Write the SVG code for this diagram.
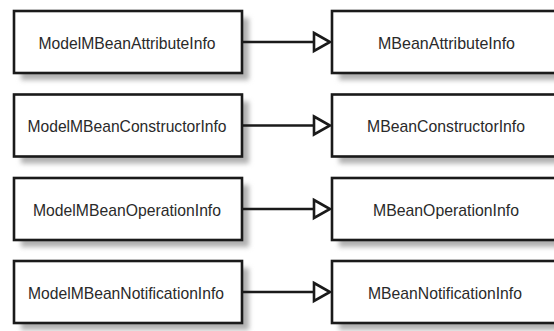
<svg xmlns="http://www.w3.org/2000/svg" width="554" height="331" viewBox="0 0 554 331">
<style>
.box{fill:#fff;stroke:#1a1a1a;stroke-width:2.6}
.sh{fill:#b0b0b0;filter:url(#blur)}
.lbl{font-family:"Liberation Sans",Arial,sans-serif;font-size:17px;fill:#2a2a2a;text-anchor:middle}
.ln{stroke:#1a1a1a;stroke-width:2.4;fill:none}
.hd{fill:#fff;stroke:#1a1a1a;stroke-width:2.6;stroke-linejoin:miter}
</style>
<defs>
<filter id="blur" x="-10%" y="-30%" width="120%" height="160%"><feGaussianBlur stdDeviation="2.4"/></filter>
</defs>
<rect width="554" height="331" fill="#fff"/>
<g id="n1"><rect class="sh" x="21" y="18" width="228" height="62"/><rect class="box" x="14" y="11" width="228" height="62"/><text class="lbl" x="127" y="48.5" textLength="177" lengthAdjust="spacingAndGlyphs">ModelMBeanAttributeInfo</text></g>
<g id="n2"><rect class="sh" x="21" y="101.5" width="228" height="62"/><rect class="box" x="14" y="94.5" width="228" height="62"/><text class="lbl" x="127" y="132" textLength="199" lengthAdjust="spacingAndGlyphs">ModelMBeanConstructorInfo</text></g>
<g id="n3"><rect class="sh" x="21" y="185" width="228" height="62"/><rect class="box" x="14" y="178" width="228" height="62"/><text class="lbl" x="127" y="215.5" textLength="188" lengthAdjust="spacingAndGlyphs">ModelMBeanOperationInfo</text></g>
<g id="n4"><rect class="sh" x="21" y="268" width="228" height="62"/><rect class="box" x="14" y="261" width="228" height="62"/><text class="lbl" x="126" y="298.5" textLength="196" lengthAdjust="spacingAndGlyphs">ModelMBeanNotificationInfo</text></g>
<g id="m1"><rect class="sh" x="339" y="18" width="228" height="62"/><rect class="box" x="332" y="11" width="228" height="62"/><text class="lbl" x="446.5" y="48.5" textLength="137" lengthAdjust="spacingAndGlyphs">MBeanAttributeInfo</text></g>
<g id="m2"><rect class="sh" x="339" y="101.5" width="228" height="62"/><rect class="box" x="332" y="94.5" width="228" height="62"/><text class="lbl" x="446" y="132" textLength="158" lengthAdjust="spacingAndGlyphs">MBeanConstructorInfo</text></g>
<g id="m3"><rect class="sh" x="339" y="185" width="228" height="62"/><rect class="box" x="332" y="178" width="228" height="62"/><text class="lbl" x="446" y="215.5" textLength="146" lengthAdjust="spacingAndGlyphs">MBeanOperationInfo</text></g>
<g id="m4"><rect class="sh" x="339" y="268" width="228" height="62"/><rect class="box" x="332" y="261" width="228" height="62"/><text class="lbl" x="445" y="298.5" textLength="154" lengthAdjust="spacingAndGlyphs">MBeanNotificationInfo</text></g>
<g id="connectors">
<path class="ln" d="M242 42H314"/><path class="hd" d="M314 33L330 42L314 51Z"/>
<path class="ln" d="M242 125.5H314"/><path class="hd" d="M314 116.5L330 125.5L314 134.5Z"/>
<path class="ln" d="M242 209H314"/><path class="hd" d="M314 200L330 209L314 218Z"/>
<path class="ln" d="M242 292H314"/><path class="hd" d="M314 283L330 292L314 301Z"/>
</g>
</svg>
